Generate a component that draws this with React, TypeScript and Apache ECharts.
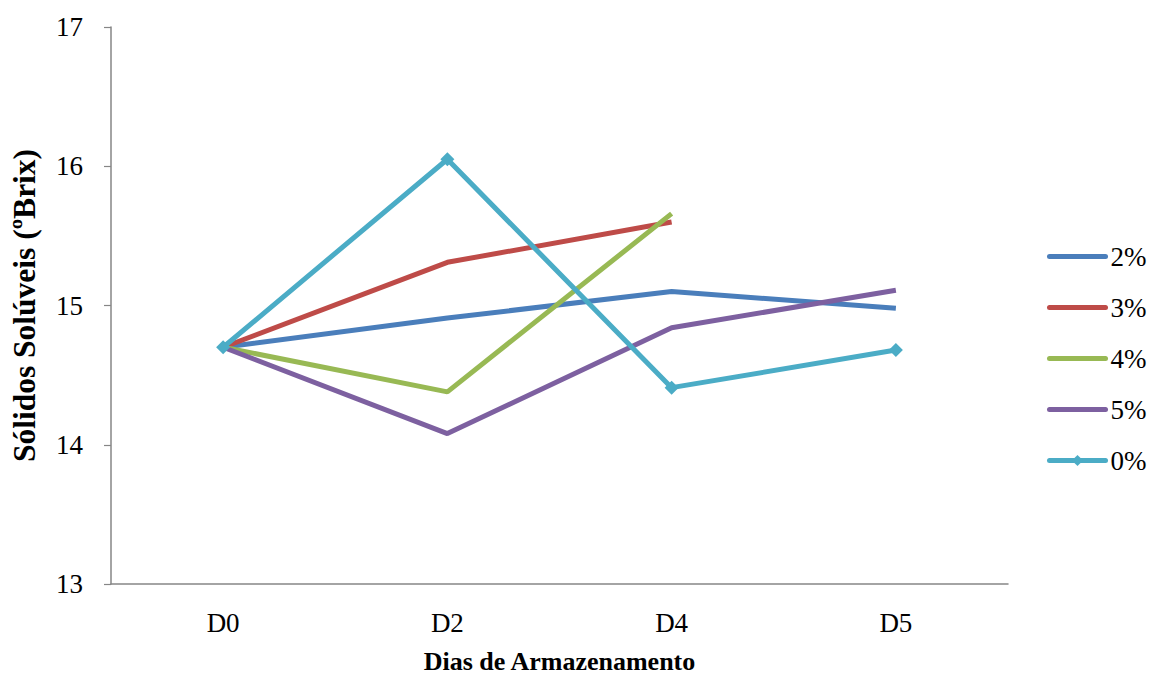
import React, { useEffect, useRef } from "react";
import * as echarts from "echarts";

const categories = ["D0", "D2", "D4", "D5"];
const s2 = [14.7, 14.91, 15.1, 14.98];
const s3 = [14.7, 15.31, 15.6, null];
const s4 = [14.7, 14.38, 15.66, null];
const s5 = [14.7, 14.08, 14.84, 15.11];
const s0 = [14.7, 16.05, 14.41, 14.68];
const seriesNames = ["2%", "3%", "4%", "5%", "0%"];
const colors = ["#4A7EBB", "#BE4B48", "#98B954", "#7D60A0", "#4BACC6"];

const FONT = "Liberation Serif";

export default function App() {
  const ref = useRef<HTMLDivElement>(null);
  useEffect(() => {
    if (!ref.current) return;
    const chart = echarts.init(ref.current, undefined, { renderer: "svg" });
    const data = [s2, s3, s4, s5, s0];
    chart.setOption({
      animation: false,
      textStyle: { fontFamily: FONT },
      grid: { left: 111, right: 142, top: 27, bottom: 94 },
      legend: {
        orient: "vertical",
        left: 1047,
        top: 243,
        padding: 0,
        itemWidth: 56,
        itemHeight: 14,
        itemGap: 24,
        textStyle: { fontFamily: FONT, fontSize: 27, color: "#000", lineHeight: 26 },
        lineStyle: { width: 5, cap: "round" },
        data: seriesNames.map((n, i) =>
          i === 4 ? { name: n } : { name: n, itemStyle: { opacity: 0 } }
        ),
      },
      xAxis: {
        type: "category",
        data: categories,
        boundaryGap: true,
        name: "Dias de Armazenamento",
        nameLocation: "middle",
        nameGap: 64,
        nameTextStyle: { fontFamily: FONT, fontSize: 26, fontWeight: "bold", color: "#000" },
        axisLine: { lineStyle: { color: "#868686", width: 1.5 } },
        axisTick: { inside: true, length: 9, lineStyle: { color: "#868686", width: 1.2 } },
        axisLabel: { fontFamily: FONT, fontSize: 27, color: "#000", margin: 25 },
      },
      yAxis: {
        type: "value",
        min: 13,
        max: 17,
        interval: 1,
        name: "Sólidos Solúveis (ºBrix)",
        nameLocation: "middle",
        nameGap: 71,
        nameTextStyle: { fontFamily: FONT, fontSize: 31.5, fontWeight: "bold", color: "#000" },
        axisLine: { show: true, lineStyle: { color: "#868686", width: 1.5 } },
        axisTick: { show: true, length: 7, lineStyle: { color: "#868686", width: 1.2 } },
        splitLine: { show: false },
        axisLabel: { fontFamily: FONT, fontSize: 27, color: "#000", margin: 28, padding: [0, 0, 8, 0] },
      },
      series: data.map((d, i) => ({
        name: seriesNames[i],
        type: "line",
        data: d,
        color: colors[i],
        lineStyle: { width: 5, color: colors[i] },
        symbol: i === 4 ? "diamond" : "none",
        symbolSize: 14,
        showSymbol: i === 4,
        itemStyle: { color: colors[i] },
        connectNulls: false,
      })),
    });
    return () => chart.dispose();
  }, []);
  return <div ref={ref} style={{ width: 1150, height: 679, position: "absolute", left: 0, top: 0 }} />;
}
